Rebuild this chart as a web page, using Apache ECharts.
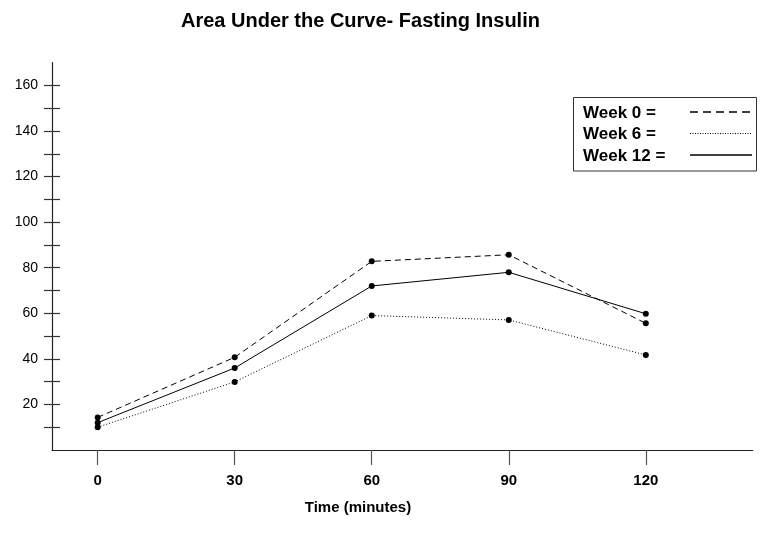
<!DOCTYPE html>
<html>
<head>
<meta charset="utf-8">
<script src="https://cdn.jsdelivr.net/npm/echarts@6/dist/echarts.min.js"></script>
<style>
html,body{margin:0;padding:0;background:#fff;}
#chart{width:763px;height:548px;}
</style>
</head>
<body>
<div id="chart"></div>
<script>
// ---- data ----
var timePoints = [0, 30, 60, 90, 120];
var seriesNames = ['Week 0 =', 'Week 6 =', 'Week 12 ='];
var week0 = [14.3, 40.7, 82.8, 85.7, 55.6];
var week6 = [10.0, 29.9, 59.0, 57.1, 41.7];
var week12 = [12.0, 36.0, 72.0, 78.0, 59.8];
var yTickValues = [10, 20, 30, 40, 50, 60, 70, 80, 90, 100, 110, 120, 130, 140, 150, 160];
var yLabelValues = [20, 40, 60, 80, 100, 120, 140, 160];
var xTickValues = [0, 30, 60, 90, 120];

var FONT = '"Liberation Sans", Arial, sans-serif';
var dashes = [[6, 4], [1, 2], 'solid'];
var legendDashes = [[8, 5], [1, 1.5], 'solid'];
var values = [week0, week6, week12];

function pairs(arr) {
  return timePoints.map(function (t, i) { return [t, arr[i]]; });
}

var series = values.map(function (v, i) {
  return {
    name: seriesNames[i],
    type: 'line',
    data: pairs(v),
    symbol: 'circle',
    symbolSize: 6,
    itemStyle: { color: '#000' },
    lineStyle: { color: '#000', width: 1, type: dashes[i] },
    emphasis: { disabled: true },
    animation: false,
    z: 3 - i
  };
});

// legend drawn with graphic elements from the series names
var legendGraphics = [{
  type: 'rect',
  shape: { x: 573.5, y: 97.5, width: 183, height: 73.5 },
  style: { fill: '#fff', stroke: '#333', lineWidth: 1 },
  z: 10
}];
seriesNames.forEach(function (name, i) {
  var cy = 113 + i * 21.5;
  legendGraphics.push({
    type: 'text',
    x: 583, y: cy,
    style: { text: name, font: 'bold 17px ' + FONT, fill: '#000', textVerticalAlign: 'middle', textAlign: 'left' },
    z: 11
  });
  legendGraphics.push({
    type: 'line',
    shape: { x1: 690, y1: cy - 1, x2: 752, y2: cy - 1 },
    style: { stroke: '#000', lineWidth: i === 1 ? 1 : 1.5, lineDash: legendDashes[i] === 'solid' ? null : legendDashes[i] },
    z: 11
  });
});

var chart = echarts.init(document.getElementById('chart'), null, { renderer: 'canvas' });
chart.setOption({
  backgroundColor: '#fff',
  animation: false,
  title: {
    text: 'Area Under the Curve- Fasting Insulin',
    left: 176, top: 6,
    textStyle: { fontFamily: FONT, fontWeight: 'bold', fontSize: 20, color: '#000' }
  },
  grid: { left: 52, right: 10.3, top: 62.7, bottom: 98 },
  xAxis: {
    type: 'value',
    min: -10, max: 143.4,
    splitLine: { show: false },
    axisLine: { show: true, onZero: false, lineStyle: { color: '#222', width: 1.2 } },
    axisTick: { show: true, length: 15, inside: false, customValues: xTickValues, lineStyle: { color: '#555', width: 1.2 } },
    axisLabel: { customValues: xTickValues, margin: 23, fontFamily: FONT, fontWeight: 'bold', fontSize: 15, color: '#000' }
  },
  yAxis: [{
    type: 'value',
    min: 0, max: 170,
    splitLine: { show: false },
    axisLine: { show: true, onZero: false, lineStyle: { color: '#222', width: 1.2 } },
    axisTick: { show: true, length: 8, inside: false, customValues: yTickValues, lineStyle: { color: '#333', width: 1.2 } },
    axisLabel: { customValues: yLabelValues, margin: 14, fontFamily: FONT, fontSize: 14, color: '#000' }
  }, {
    type: 'value',
    position: 'left',
    min: 0, max: 170,
    splitLine: { show: false },
    axisLine: { show: false, onZero: false },
    axisTick: { show: true, length: 8, inside: true, customValues: yTickValues, lineStyle: { color: '#333', width: 1.2 } },
    axisLabel: { show: false }
  }],
  graphic: legendGraphics.concat([{
    type: 'text',
    x: 358, y: 508,
    style: { text: 'Time (minutes)', font: 'bold 15px ' + FONT, fill: '#000', textAlign: 'center', textVerticalAlign: 'middle' }
  }]),
  series: series
});
</script>
</body>
</html>
